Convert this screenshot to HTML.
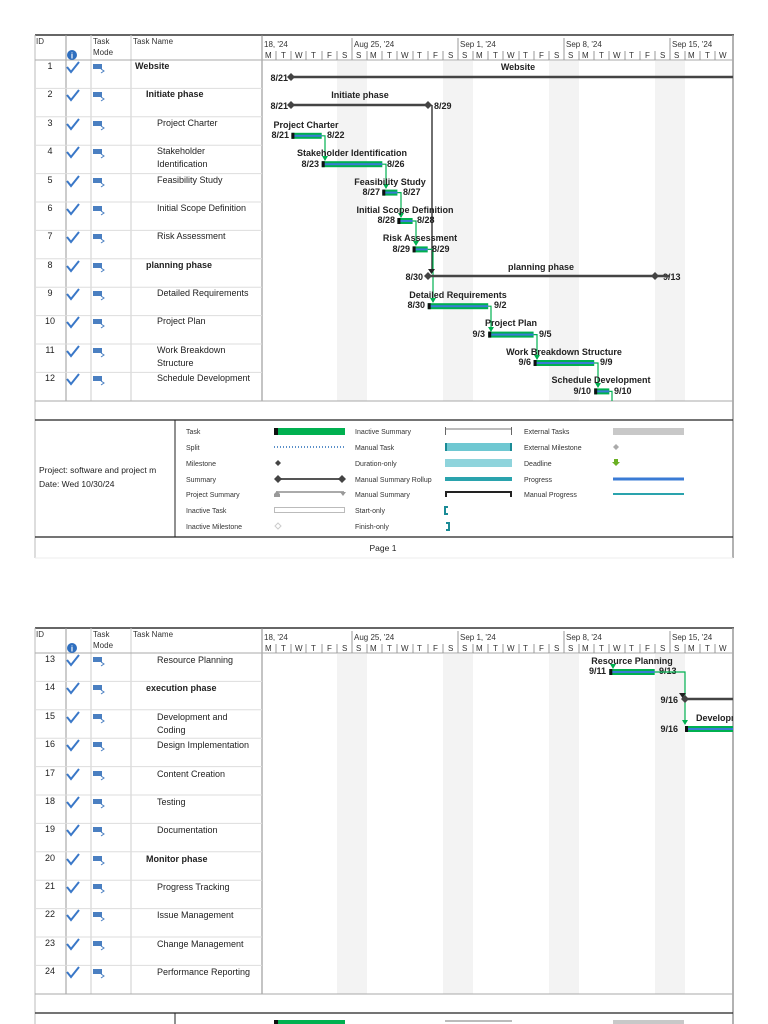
<!DOCTYPE html>
<html><head><meta charset="utf-8"><style>
html,body{margin:0;padding:0;background:#fff;}
svg{display:block;font-family:"Liberation Sans",sans-serif;}
.t{font-size:9px;fill:#222;}
.b{font-size:9px;font-weight:bold;fill:#222;}
.h{font-size:8px;fill:#333;}
.l{font-size:7px;fill:#333;}
.c{font-size:9px;font-weight:bold;fill:#222;}
</style></head><body>
<svg width="768" height="1024" viewBox="0 0 768 1024" xmlns="http://www.w3.org/2000/svg">
<defs>
<g id="chk"><path d="M0,5 L4,10 L12,0" fill="none" stroke="#3a78c8" stroke-width="2"/></g>
<g id="mode"><rect x="0" y="0" width="9" height="5" fill="#4a7fc1"/><path d="M8,5 l3,2 l-3,2" fill="none" stroke="#4a7fc1" stroke-width="1"/></g>
<clipPath id="cp"><rect x="262" y="0" width="471" height="1024"/></clipPath>
</defs>

<!-- ================= PAGE 1 ================= -->
<g clip-path="url(#cp)">
<rect x="337" y="61" width="30" height="340" fill="#f3f3f3"/>
<rect x="443" y="61" width="30" height="340" fill="#f3f3f3"/>
<rect x="549" y="61" width="30" height="340" fill="#f3f3f3"/>
<rect x="655" y="61" width="30" height="340" fill="#f3f3f3"/>
</g>
<!-- frame -->
<line x1="35" y1="35" x2="734" y2="35" stroke="#666" stroke-width="2"/>
<line x1="35" y1="35" x2="35" y2="558" stroke="#bbb" stroke-width="1"/>
<line x1="733" y1="35" x2="733" y2="558" stroke="#999" stroke-width="1.5"/>
<line x1="262" y1="35" x2="262" y2="401" stroke="#888" stroke-width="1"/>
<line x1="66" y1="35" x2="66" y2="401" stroke="#999"/>
<line x1="91" y1="35" x2="91" y2="401" stroke="#ccc"/>
<line x1="131" y1="35" x2="131" y2="401" stroke="#ccc"/>
<line x1="35" y1="60" x2="733" y2="60" stroke="#aaa"/>
<line x1="35" y1="401" x2="733" y2="401" stroke="#aaa"/>
<line x1="35" y1="420" x2="733" y2="420" stroke="#222" stroke-width="1.2"/>
<line x1="35" y1="537" x2="733" y2="537" stroke="#222" stroke-width="1.2"/>
<line x1="175" y1="420" x2="175" y2="537" stroke="#222"/>
<!-- row lines -->
<g stroke="#ddd">
<line x1="35" y1="88.4" x2="262" y2="88.4"/><line x1="35" y1="116.8" x2="262" y2="116.8"/>
<line x1="35" y1="145.2" x2="262" y2="145.2"/><line x1="35" y1="173.6" x2="262" y2="173.6"/>
<line x1="35" y1="202" x2="262" y2="202"/><line x1="35" y1="230.4" x2="262" y2="230.4"/>
<line x1="35" y1="258.8" x2="262" y2="258.8"/><line x1="35" y1="287.2" x2="262" y2="287.2"/>
<line x1="35" y1="315.6" x2="262" y2="315.6"/><line x1="35" y1="344" x2="262" y2="344"/>
<line x1="35" y1="372.4" x2="262" y2="372.4"/>
</g>
<!-- header -->
<text class="h" x="36" y="44">ID</text>
<circle cx="72" cy="55" r="5" fill="#2f6fbf"/><text x="72" y="58.5" font-size="8" font-weight="bold" fill="#fff" text-anchor="middle">i</text>
<text class="h" x="93" y="44">Task</text><text class="h" x="93" y="55">Mode</text>
<text class="h" x="133" y="44">Task Name</text>
<g class="h" font-size="7">
<text x="264" y="47">18, '24</text><text x="354" y="47">Aug 25, '24</text><text x="460" y="47">Sep 1, '24</text><text x="566" y="47">Sep 8, '24</text><text x="672" y="47">Sep 15, '24</text>
</g>
<g stroke="#999"><line x1="352" y1="38" x2="352" y2="60"/><line x1="458" y1="38" x2="458" y2="60"/><line x1="564" y1="38" x2="564" y2="60"/><line x1="670" y1="38" x2="670" y2="60"/></g>
<g stroke="#999">
<line x1="276" y1="51" x2="276" y2="60"/><line x1="291" y1="51" x2="291" y2="60"/><line x1="306" y1="51" x2="306" y2="60"/><line x1="322" y1="51" x2="322" y2="60"/><line x1="337" y1="51" x2="337" y2="60"/>
<line x1="367" y1="51" x2="367" y2="60"/><line x1="382" y1="51" x2="382" y2="60"/><line x1="397" y1="51" x2="397" y2="60"/><line x1="413" y1="51" x2="413" y2="60"/><line x1="428" y1="51" x2="428" y2="60"/><line x1="443" y1="51" x2="443" y2="60"/>
<line x1="473" y1="51" x2="473" y2="60"/><line x1="488" y1="51" x2="488" y2="60"/><line x1="503" y1="51" x2="503" y2="60"/><line x1="519" y1="51" x2="519" y2="60"/><line x1="534" y1="51" x2="534" y2="60"/><line x1="549" y1="51" x2="549" y2="60"/>
<line x1="579" y1="51" x2="579" y2="60"/><line x1="594" y1="51" x2="594" y2="60"/><line x1="609" y1="51" x2="609" y2="60"/><line x1="625" y1="51" x2="625" y2="60"/><line x1="640" y1="51" x2="640" y2="60"/><line x1="655" y1="51" x2="655" y2="60"/>
<line x1="685" y1="51" x2="685" y2="60"/><line x1="700" y1="51" x2="700" y2="60"/><line x1="715" y1="51" x2="715" y2="60"/>
</g>
<g class="h" font-size="7">
<text x="265" y="58">M</text><text x="281" y="58">T</text><text x="295" y="58">W</text><text x="311" y="58">T</text><text x="327" y="58">F</text><text x="342" y="58">S</text>
<text x="356" y="58">S</text><text x="370" y="58">M</text><text x="387" y="58">T</text><text x="401" y="58">W</text><text x="417" y="58">T</text><text x="433" y="58">F</text><text x="448" y="58">S</text>
<text x="462" y="58">S</text><text x="476" y="58">M</text><text x="493" y="58">T</text><text x="507" y="58">W</text><text x="523" y="58">T</text><text x="539" y="58">F</text><text x="554" y="58">S</text>
<text x="568" y="58">S</text><text x="582" y="58">M</text><text x="599" y="58">T</text><text x="613" y="58">W</text><text x="629" y="58">T</text><text x="645" y="58">F</text><text x="660" y="58">S</text>
<text x="674" y="58">S</text><text x="688" y="58">M</text><text x="705" y="58">T</text><text x="719" y="58">W</text>
</g>
<!-- table rows page 1 -->
<g class="t" text-anchor="middle">
<text x="50" y="69">1</text><text x="50" y="97">2</text><text x="50" y="126">3</text><text x="50" y="154">4</text><text x="50" y="183">5</text><text x="50" y="211">6</text><text x="50" y="239">7</text><text x="50" y="268">8</text><text x="50" y="296">9</text><text x="50" y="324">10</text><text x="50" y="353">11</text><text x="50" y="381">12</text>
</g>
<g>
<use href="#chk" x="67" y="62"/><use href="#chk" x="67" y="90"/><use href="#chk" x="67" y="119"/><use href="#chk" x="67" y="147"/><use href="#chk" x="67" y="176"/><use href="#chk" x="67" y="204"/><use href="#chk" x="67" y="232"/><use href="#chk" x="67" y="261"/><use href="#chk" x="67" y="289"/><use href="#chk" x="67" y="317"/><use href="#chk" x="67" y="346"/><use href="#chk" x="67" y="374"/>
<use href="#mode" x="93" y="64"/><use href="#mode" x="93" y="92"/><use href="#mode" x="93" y="121"/><use href="#mode" x="93" y="149"/><use href="#mode" x="93" y="178"/><use href="#mode" x="93" y="206"/><use href="#mode" x="93" y="234"/><use href="#mode" x="93" y="263"/><use href="#mode" x="93" y="291"/><use href="#mode" x="93" y="319"/><use href="#mode" x="93" y="348"/><use href="#mode" x="93" y="376"/>
</g>
<text class="b" x="135" y="69">Website</text>
<text class="b" x="146" y="97">Initiate phase</text>
<text class="t" x="157" y="126">Project Charter</text>
<text class="t" x="157" y="154">Stakeholder</text><text class="t" x="157" y="167">Identification</text>
<text class="t" x="157" y="183">Feasibility Study</text>
<text class="t" x="157" y="211">Initial Scope Definition</text>
<text class="t" x="157" y="239">Risk Assessment</text>
<text class="b" x="146" y="268">planning phase</text>
<text class="t" x="157" y="296">Detailed Requirements</text>
<text class="t" x="157" y="324">Project Plan</text>
<text class="t" x="157" y="353">Work Breakdown</text><text class="t" x="157" y="366">Structure</text>
<text class="t" x="157" y="381">Schedule Development</text>

<!-- chart page 1 -->
<g clip-path="url(#cp)">
<text class="c" x="518" y="70" text-anchor="middle">Website</text>
<line x1="291" y1="77" x2="740" y2="77" stroke="#444" stroke-width="2.5"/>
<path d="M291,73 l4,4 l-4,4 l-4,-4z" fill="#444"/>
<text class="c" x="288" y="81" text-anchor="end">8/21</text>

<text class="c" x="360" y="98" text-anchor="middle">Initiate phase</text>
<line x1="291" y1="105" x2="428" y2="105" stroke="#444" stroke-width="2.5"/>
<path d="M291,101 l4,4 l-4,4 l-4,-4z M428,101 l4,4 l-4,4 l-4,-4z" fill="#444"/>
<text class="c" x="288" y="109" text-anchor="end">8/21</text>
<text class="c" x="434" y="109">8/29</text>
<line x1="432" y1="105" x2="432" y2="272" stroke="#222" stroke-width="1.3"/>

<!-- tasks -->
<g fill="#00b050">
<rect x="291.4" y="132.8" width="30.3" height="6"/>
<rect x="321.7" y="161.2" width="60.6" height="6"/>
<rect x="382.3" y="189.6" width="15.1" height="6"/>
<rect x="397.4" y="218" width="15.2" height="6"/>
<rect x="412.6" y="246.4" width="15.1" height="6"/>
<rect x="427.7" y="303.2" width="60.5" height="6"/>
<rect x="488.2" y="331.6" width="45.4" height="6"/>
<rect x="533.6" y="360" width="60.6" height="6"/>
<rect x="594.2" y="388.4" width="15.1" height="6"/>
</g>
<g fill="#3a7bd5">
<rect x="291.4" y="134.8" width="30.3" height="2"/>
<rect x="321.7" y="163.2" width="60.6" height="2"/>
<rect x="382.3" y="191.6" width="15.1" height="2"/>
<rect x="397.4" y="220" width="15.2" height="2"/>
<rect x="412.6" y="248.4" width="15.1" height="2"/>
<rect x="427.7" y="305.2" width="60.5" height="2"/>
<rect x="488.2" y="333.6" width="45.4" height="2"/>
<rect x="533.6" y="362" width="60.6" height="2"/>
<rect x="594.2" y="390.4" width="15.1" height="2"/>
</g>
<g fill="#111">
<rect x="291.4" y="132.8" width="3" height="6"/><rect x="321.7" y="161.2" width="3" height="6"/><rect x="382.3" y="189.6" width="3" height="6"/><rect x="397.4" y="218" width="3" height="6"/><rect x="412.6" y="246.4" width="3" height="6"/><rect x="427.7" y="303.2" width="3" height="6"/><rect x="488.2" y="331.6" width="3" height="6"/><rect x="533.6" y="360" width="3" height="6"/><rect x="594.2" y="388.4" width="3" height="6"/>
</g>
<!-- dependency arrows -->
<g fill="none" stroke="#00b050" stroke-width="1.2">
<path d="M321.7,135.8 H325 V160"/>
<path d="M382.3,164.2 H386 V188"/>
<path d="M397.4,192.6 H401 V217"/>
<path d="M412.6,221 H416 V245"/>
<path d="M427.7,249.4 H433 V302"/>
<path d="M488.2,306.2 H491 V330"/>
<path d="M533.6,334.6 H537 V359"/>
<path d="M594.2,363 H598 V387"/>
<path d="M609.3,391.4 H612 V401"/>
</g>
<g fill="#00b050">
<path d="M322,156 h6 l-3,5z"/><path d="M383,184 h6 l-3,5z"/><path d="M398,213 h6 l-3,5z"/><path d="M413,241 h6 l-3,5z"/><path d="M430,298 h6 l-3,5z"/><path d="M488,327 h6 l-3,5z"/><path d="M534,355 h6 l-3,5z"/><path d="M595,383 h6 l-3,5z"/>
</g>
<!-- task labels -->
<g class="c" text-anchor="middle">
<text x="306" y="128">Project Charter</text>
<text x="352" y="156">Stakeholder Identification</text>
<text x="390" y="185">Feasibility Study</text>
<text x="405" y="213">Initial Scope Definition</text>
<text x="420" y="241">Risk Assessment</text>
<text x="541" y="270">planning phase</text>
<text x="458" y="298">Detailed Requirements</text>
<text x="511" y="326">Project Plan</text>
<text x="564" y="355">Work Breakdown Structure</text>
<text x="601" y="383">Schedule Development</text>
</g>
<g class="c" text-anchor="end">
<text x="289" y="138">8/21</text><text x="319" y="167">8/23</text><text x="380" y="195">8/27</text><text x="395" y="223">8/28</text><text x="410" y="252">8/29</text>
<text x="423" y="280">8/30</text><text x="425" y="308">8/30</text><text x="485" y="337">9/3</text><text x="531" y="365">9/6</text><text x="591" y="394">9/10</text>
</g>
<g class="c">
<text x="327" y="138">8/22</text><text x="387" y="167">8/26</text><text x="403" y="195">8/27</text><text x="417" y="223">8/28</text><text x="432" y="252">8/29</text>
<text x="494" y="308">9/2</text><text x="539" y="337">9/5</text><text x="600" y="365">9/9</text><text x="614" y="394">9/10</text>
<text x="663" y="280">9/13</text>
</g>
<!-- planning summary -->
<line x1="428" y1="276" x2="670" y2="276" stroke="#444" stroke-width="2.5"/>
<path d="M428,272 l4,4 l-4,4 l-4,-4z M655,272 l4,4 l-4,4 l-4,-4z" fill="#444"/>
<path d="M428,269 h7 l-3.5,5z" fill="#222"/>
</g>

<!-- legend page 1 -->
<text x="39" y="473" font-size="8.5" fill="#222">Project: software and project m</text>
<text x="39" y="487" font-size="8.5" fill="#222">Date: Wed 10/30/24</text>
<g class="l">
<text x="186" y="434">Task</text><text x="186" y="450">Split</text><text x="186" y="466">Milestone</text><text x="186" y="482">Summary</text><text x="186" y="497">Project Summary</text><text x="186" y="513">Inactive Task</text><text x="186" y="529">Inactive Milestone</text>
<text x="355" y="434">Inactive Summary</text><text x="355" y="450">Manual Task</text><text x="355" y="466">Duration-only</text><text x="355" y="482">Manual Summary Rollup</text><text x="355" y="497">Manual Summary</text><text x="355" y="513">Start-only</text><text x="355" y="529">Finish-only</text>
<text x="524" y="434">External Tasks</text><text x="524" y="450">External Milestone</text><text x="524" y="466">Deadline</text><text x="524" y="482">Progress</text><text x="524" y="497">Manual Progress</text>
</g>
<rect x="274" y="428" width="71" height="7" fill="#00b050"/><rect x="274" y="428" width="4" height="7" fill="#111"/>
<line x1="274" y1="447" x2="345" y2="447" stroke="#5a8fc8" stroke-width="2" stroke-dasharray="1,2"/>
<path d="M278,460 l3,3 l-3,3 l-3,-3z" fill="#444"/>
<line x1="278" y1="479" x2="342" y2="479" stroke="#555" stroke-width="2"/>
<path d="M278,475 l4,4 l-4,4 l-4,-4z M342,475 l4,4 l-4,4 l-4,-4z" fill="#444"/>
<line x1="276" y1="492" x2="344" y2="492" stroke="#aaa" stroke-width="2"/>
<path d="M274,497 v-3 l3,-3 l3,3 v3z M340,492 h6 l-3,4z" fill="#999"/>
<rect x="274.5" y="507.5" width="70" height="5" fill="#fff" stroke="#bbb"/>
<path d="M278,523 l3,3 l-3,3 l-3,-3z" fill="none" stroke="#ccc"/>
<line x1="445" y1="429" x2="512" y2="429" stroke="#bbb" stroke-width="2"/><line x1="445.5" y1="427" x2="445.5" y2="435" stroke="#666"/><line x1="511.5" y1="427" x2="511.5" y2="435" stroke="#666"/>
<rect x="445" y="443" width="67" height="8" fill="#6fc8d2"/><rect x="445" y="443" width="2" height="8" fill="#1b8b96"/><rect x="510" y="443" width="2" height="8" fill="#1b8b96"/>
<rect x="445" y="459" width="67" height="8" fill="#8fd4dc"/>
<rect x="445" y="477" width="67" height="4" fill="#2aa3ad"/>
<path d="M446,497 v-5 h65 v5" fill="none" stroke="#222" stroke-width="2"/>
<path d="M448,507 h-3 v7 h3" fill="none" stroke="#1b8b96" stroke-width="2"/>
<path d="M446,523 h3 v7 h-3" fill="none" stroke="#1b8b96" stroke-width="2"/>
<rect x="613" y="428" width="71" height="7" fill="#c8c8c8"/>
<path d="M616,444 l3,3 l-3,3 l-3,-3z" fill="#aaa"/>
<path d="M614,459 h4 v3 h2 l-4,4 l-4,-4 h2z" fill="#6ab023"/>
<line x1="613" y1="479" x2="684" y2="479" stroke="#3a7bd5" stroke-width="3"/>
<line x1="613" y1="494" x2="684" y2="494" stroke="#2aa3ad" stroke-width="2"/>
<text x="383" y="551" font-size="8.5" fill="#222" text-anchor="middle">Page 1</text>
<line x1="35" y1="558" x2="733" y2="558" stroke="#eee"/>

<!-- ================= PAGE 2 ================= -->
<g clip-path="url(#cp)">
<rect x="337" y="654" width="30" height="340" fill="#f3f3f3"/>
<rect x="443" y="654" width="30" height="340" fill="#f3f3f3"/>
<rect x="549" y="654" width="30" height="340" fill="#f3f3f3"/>
<rect x="655" y="654" width="30" height="340" fill="#f3f3f3"/>
</g>
<line x1="35" y1="628" x2="734" y2="628" stroke="#666" stroke-width="2"/>
<line x1="35" y1="628" x2="35" y2="1024" stroke="#bbb"/>
<line x1="733" y1="628" x2="733" y2="1024" stroke="#999" stroke-width="1.5"/>
<line x1="262" y1="628" x2="262" y2="994" stroke="#888"/>
<line x1="66" y1="628" x2="66" y2="994" stroke="#999"/>
<line x1="91" y1="628" x2="91" y2="994" stroke="#ccc"/>
<line x1="131" y1="628" x2="131" y2="994" stroke="#ccc"/>
<line x1="35" y1="653" x2="733" y2="653" stroke="#aaa"/>
<line x1="35" y1="994" x2="733" y2="994" stroke="#aaa"/>
<line x1="35" y1="1013" x2="733" y2="1013" stroke="#222" stroke-width="1.2"/>
<line x1="175" y1="1013" x2="175" y2="1024" stroke="#222"/>
<g stroke="#ddd">
<line x1="35" y1="681.4" x2="262" y2="681.4"/><line x1="35" y1="709.8" x2="262" y2="709.8"/>
<line x1="35" y1="738.2" x2="262" y2="738.2"/><line x1="35" y1="766.6" x2="262" y2="766.6"/>
<line x1="35" y1="795" x2="262" y2="795"/><line x1="35" y1="823.4" x2="262" y2="823.4"/>
<line x1="35" y1="851.8" x2="262" y2="851.8"/><line x1="35" y1="880.2" x2="262" y2="880.2"/>
<line x1="35" y1="908.6" x2="262" y2="908.6"/><line x1="35" y1="937" x2="262" y2="937"/>
<line x1="35" y1="965.4" x2="262" y2="965.4"/>
</g>
<text class="h" x="36" y="637">ID</text>
<circle cx="72" cy="648" r="5" fill="#2f6fbf"/><text x="72" y="651.5" font-size="8" font-weight="bold" fill="#fff" text-anchor="middle">i</text>
<text class="h" x="93" y="637">Task</text><text class="h" x="93" y="648">Mode</text>
<text class="h" x="133" y="637">Task Name</text>
<g class="h" font-size="7">
<text x="264" y="640">18, '24</text><text x="354" y="640">Aug 25, '24</text><text x="460" y="640">Sep 1, '24</text><text x="566" y="640">Sep 8, '24</text><text x="672" y="640">Sep 15, '24</text>
</g>
<g stroke="#999"><line x1="352" y1="631" x2="352" y2="653"/><line x1="458" y1="631" x2="458" y2="653"/><line x1="564" y1="631" x2="564" y2="653"/><line x1="670" y1="631" x2="670" y2="653"/></g>
<g stroke="#999">
<line x1="276" y1="644" x2="276" y2="653"/><line x1="291" y1="644" x2="291" y2="653"/><line x1="306" y1="644" x2="306" y2="653"/><line x1="322" y1="644" x2="322" y2="653"/><line x1="337" y1="644" x2="337" y2="653"/>
<line x1="367" y1="644" x2="367" y2="653"/><line x1="382" y1="644" x2="382" y2="653"/><line x1="397" y1="644" x2="397" y2="653"/><line x1="413" y1="644" x2="413" y2="653"/><line x1="428" y1="644" x2="428" y2="653"/><line x1="443" y1="644" x2="443" y2="653"/>
<line x1="473" y1="644" x2="473" y2="653"/><line x1="488" y1="644" x2="488" y2="653"/><line x1="503" y1="644" x2="503" y2="653"/><line x1="519" y1="644" x2="519" y2="653"/><line x1="534" y1="644" x2="534" y2="653"/><line x1="549" y1="644" x2="549" y2="653"/>
<line x1="579" y1="644" x2="579" y2="653"/><line x1="594" y1="644" x2="594" y2="653"/><line x1="609" y1="644" x2="609" y2="653"/><line x1="625" y1="644" x2="625" y2="653"/><line x1="640" y1="644" x2="640" y2="653"/><line x1="655" y1="644" x2="655" y2="653"/>
<line x1="685" y1="644" x2="685" y2="653"/><line x1="700" y1="644" x2="700" y2="653"/><line x1="715" y1="644" x2="715" y2="653"/>
</g>
<g class="h" font-size="7">
<text x="265" y="651">M</text><text x="281" y="651">T</text><text x="295" y="651">W</text><text x="311" y="651">T</text><text x="327" y="651">F</text><text x="342" y="651">S</text>
<text x="356" y="651">S</text><text x="370" y="651">M</text><text x="387" y="651">T</text><text x="401" y="651">W</text><text x="417" y="651">T</text><text x="433" y="651">F</text><text x="448" y="651">S</text>
<text x="462" y="651">S</text><text x="476" y="651">M</text><text x="493" y="651">T</text><text x="507" y="651">W</text><text x="523" y="651">T</text><text x="539" y="651">F</text><text x="554" y="651">S</text>
<text x="568" y="651">S</text><text x="582" y="651">M</text><text x="599" y="651">T</text><text x="613" y="651">W</text><text x="629" y="651">T</text><text x="645" y="651">F</text><text x="660" y="651">S</text>
<text x="674" y="651">S</text><text x="688" y="651">M</text><text x="705" y="651">T</text><text x="719" y="651">W</text>
</g>
<g class="t" text-anchor="middle">
<text x="50" y="662">13</text><text x="50" y="690">14</text><text x="50" y="719">15</text><text x="50" y="747">16</text><text x="50" y="776">17</text><text x="50" y="804">18</text><text x="50" y="832">19</text><text x="50" y="861">20</text><text x="50" y="889">21</text><text x="50" y="917">22</text><text x="50" y="946">23</text><text x="50" y="974">24</text>
</g>
<g>
<use href="#chk" x="67" y="655"/><use href="#chk" x="67" y="683"/><use href="#chk" x="67" y="712"/><use href="#chk" x="67" y="740"/><use href="#chk" x="67" y="769"/><use href="#chk" x="67" y="797"/><use href="#chk" x="67" y="825"/><use href="#chk" x="67" y="854"/><use href="#chk" x="67" y="882"/><use href="#chk" x="67" y="910"/><use href="#chk" x="67" y="939"/><use href="#chk" x="67" y="967"/>
<use href="#mode" x="93" y="657"/><use href="#mode" x="93" y="685"/><use href="#mode" x="93" y="714"/><use href="#mode" x="93" y="742"/><use href="#mode" x="93" y="771"/><use href="#mode" x="93" y="799"/><use href="#mode" x="93" y="827"/><use href="#mode" x="93" y="856"/><use href="#mode" x="93" y="884"/><use href="#mode" x="93" y="912"/><use href="#mode" x="93" y="941"/><use href="#mode" x="93" y="969"/>
</g>
<text class="t" x="157" y="663">Resource Planning</text>
<text class="b" x="146" y="691">execution phase</text>
<text class="t" x="157" y="720">Development and</text><text class="t" x="157" y="733">Coding</text>
<text class="t" x="157" y="748">Design Implementation</text>
<text class="t" x="157" y="777">Content Creation</text>
<text class="t" x="157" y="805">Testing</text>
<text class="t" x="157" y="833">Documentation</text>
<text class="b" x="146" y="862">Monitor phase</text>
<text class="t" x="157" y="890">Progress Tracking</text>
<text class="t" x="157" y="918">Issue Management</text>
<text class="t" x="157" y="947">Change Management</text>
<text class="t" x="157" y="975">Performance Reporting</text>

<g clip-path="url(#cp)">
<rect x="609.3" y="669" width="45.4" height="6" fill="#00b050"/><rect x="609.3" y="671" width="45.4" height="2" fill="#3a7bd5"/><rect x="609.3" y="669" width="3" height="6" fill="#111"/>
<path d="M610,664 h6 l-3,5z" fill="#00b050"/>
<text class="c" x="632" y="664" text-anchor="middle">Resource Planning</text>
<text class="c" x="606" y="674" text-anchor="end">9/11</text>
<text class="c" x="659" y="674">9/13</text>
<path d="M654.7,672 H685 V724" fill="none" stroke="#00b050" stroke-width="1.2"/>
<path d="M682,720 h6 l-3,5z" fill="#00b050"/>
<line x1="685" y1="699" x2="740" y2="699" stroke="#444" stroke-width="2.5"/>
<path d="M685,695 l4,4 l-4,4 l-4,-4z" fill="#444"/>
<path d="M679,693 h7 l-3.5,5z" fill="#222"/>
<text class="c" x="678" y="703" text-anchor="end">9/16</text>
<rect x="685" y="726" width="60" height="6" fill="#00b050"/><rect x="685" y="728" width="60" height="2" fill="#3a7bd5"/><rect x="685" y="726" width="3" height="6" fill="#111"/>
<text class="c" x="678" y="732" text-anchor="end">9/16</text>
<text class="c" x="696" y="721">Development and Coding</text>
</g>
<rect x="274" y="1020" width="71" height="7" fill="#00b050"/><rect x="274" y="1020" width="4" height="7" fill="#111"/>
<line x1="445" y1="1021" x2="512" y2="1021" stroke="#bbb" stroke-width="2"/>
<rect x="613" y="1020" width="71" height="7" fill="#c8c8c8"/>
</svg>
</body></html>
